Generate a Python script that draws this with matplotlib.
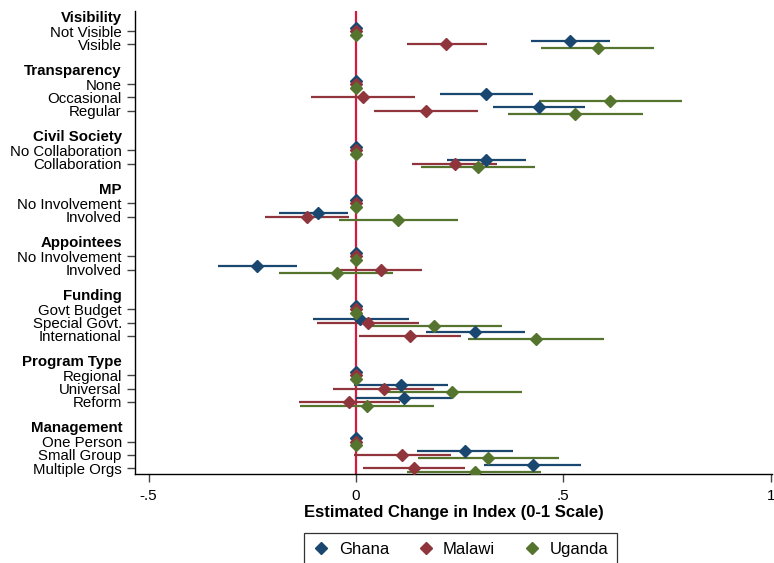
import numpy as np
import matplotlib
matplotlib.use("Agg")
import matplotlib.pyplot as plt
from matplotlib.lines import Line2D
from matplotlib.transforms import offset_copy

plt.rcParams['font.family'] = ['Liberation Sans', 'DejaVu Sans']

nan = np.nan

# Attribute groups and their levels (first level of each group is the baseline)
headers = ["Visibility", "Transparency", "Civil Society", "MP", "Appointees",
           "Funding", "Program Type", "Management"]
levels = [
    ["Not Visible", "Visible"],
    ["None", "Occasional", "Regular"],
    ["No Collaboration", "Collaboration"],
    ["No Involvement", "Involved"],
    ["No Involvement", "Involved"],
    ["Govt Budget", "Special Govt.", "International"],
    ["Regional", "Universal", "Reform"],
    ["One Person", "Small Group", "Multiple Orgs"],
]

countries = ["Ghana", "Malawi", "Uganda"]

ghana_est = [0, .516, 0, .314, .442, 0, .314, 0, -.092, 0, -.239, 0, .010, .288, 0, .108, .115, 0, .263, .426]
ghana_lo = [nan, .422, nan, .203, .331, nan, .220, nan, -.186, nan, -.334, nan, -.104, .169, nan, -.006, .000, nan, .148, .308]
ghana_hi = [nan, .612, nan, .426, .553, nan, .409, nan, -.019, nan, -.143, nan, .128, .407, nan, .222, .232, nan, .378, .542]

malawi_est = [0, .218, 0, .016, .169, 0, .239, 0, -.118, 0, .060, 0, .028, .130, 0, .067, -.017, 0, .112, .139]
malawi_lo = [nan, .124, nan, -.109, .044, nan, .136, nan, -.219, nan, -.039, nan, -.095, .006, nan, -.055, -.137, nan, -.006, .016]
malawi_hi = [nan, .315, nan, .141, .293, nan, .341, nan, -.018, nan, .158, nan, .152, .252, nan, .189, .106, nan, .230, .263]

uganda_est = [0, .583, 0, .612, .528, 0, .293, 0, .102, 0, -.047, 0, .188, .434, 0, .231, .026, 0, .319, .286]
uganda_lo = [nan, .447, nan, .441, .366, nan, .156, nan, -.042, nan, -.186, nan, .026, .271, nan, .066, -.136, nan, .149, .124]
uganda_hi = [nan, .719, nan, .786, .692, nan, .432, nan, .245, nan, .088, nan, .352, .598, nan, .399, .188, nan, .489, .445]

xticks = [-0.5, 0, 0.5, 1]
xtick_labels = ["-.5", "0", ".5", "1"]

colors = ["#1a476f", "#90353b", "#55752f"]
offsets = [-0.27, 0.0, 0.27]

# Row positions: each group gets a header row, its levels, and a blank spacer row
header_pos, row_pos, row_labels = [], [], []
slot = 0
for h, lv in zip(headers, levels):
    header_pos.append(slot)
    for j, name in enumerate(lv):
        row_pos.append(slot + 1 + j)
        row_labels.append(name)
    slot += len(lv) + 2
row_pos = np.array(row_pos, dtype=float)

fig = plt.figure(figsize=(7.74, 5.63), dpi=100)
ax = fig.add_axes([135 / 774, 1 - 474 / 563, (772 - 135) / 774, (474 - 11) / 563])

ax.axvline(0, color="#d7193f", lw=1.6, zorder=1)

series = [
    (ghana_est, ghana_lo, ghana_hi),
    (malawi_est, malawi_lo, malawi_hi),
    (uganda_est, uganda_lo, uganda_hi),
]
for (est, lo, hi), col, off in zip(series, colors, offsets):
    y = row_pos + off
    lo = np.array(lo, dtype=float)
    hi = np.array(hi, dtype=float)
    ok = ~np.isnan(lo)
    ax.hlines(y[ok], lo[ok], hi[ok], color=col, lw=1.6, zorder=2)
    ax.plot(est, y, ls="none", marker="D", ms=6.5, color=col, mec=col, zorder=3)

ax.set_xlim(-0.533, 1.003)
ax.set_ylim((474 - 18) / 13.24, -(18 - 11) / 13.24)

ax.set_xticks(xticks)
ax.set_xticklabels(xtick_labels)
ax.set_yticks(row_pos)
ax.set_yticklabels(row_labels)

ax.tick_params(axis="y", length=6, width=1.0, color="#444444", pad=3.5, labelsize=10.8)
ax.tick_params(axis="x", length=6, width=1.0, color="#444444", pad=4.5, labelsize=11)

for s in ["top", "right"]:
    ax.spines[s].set_visible(False)
for s in ["left", "bottom"]:
    ax.spines[s].set_linewidth(1.0)
    ax.spines[s].set_color("black")

hdr_tr = offset_copy(ax.get_yaxis_transform(), fig=fig, x=-13, y=0, units="dots")
for h, yp in zip(headers, header_pos):
    ax.text(0, yp, h, transform=hdr_tr, ha="right", va="center",
            fontsize=10.8, fontweight="bold")

ax.set_xlabel("Estimated Change in Index (0-1 Scale)", fontsize=12,
              fontweight="bold", labelpad=2)

handles = [Line2D([], [], ls="none", marker="D", ms=6.5, color=c, mec=c)
           for c in colors]
leg = fig.legend(handles, countries, loc="upper center", ncol=3,
                 bbox_to_anchor=(460.5 / 774, 1 - 533 / 563), frameon=True,
                 fancybox=False, edgecolor="black", fontsize=12,
                 handlelength=1.0, handletextpad=0.55, columnspacing=1.7,
                 borderpad=0.55, borderaxespad=0)
leg.get_frame().set_linewidth(0.9)

fig.savefig("out.png", dpi=100)
